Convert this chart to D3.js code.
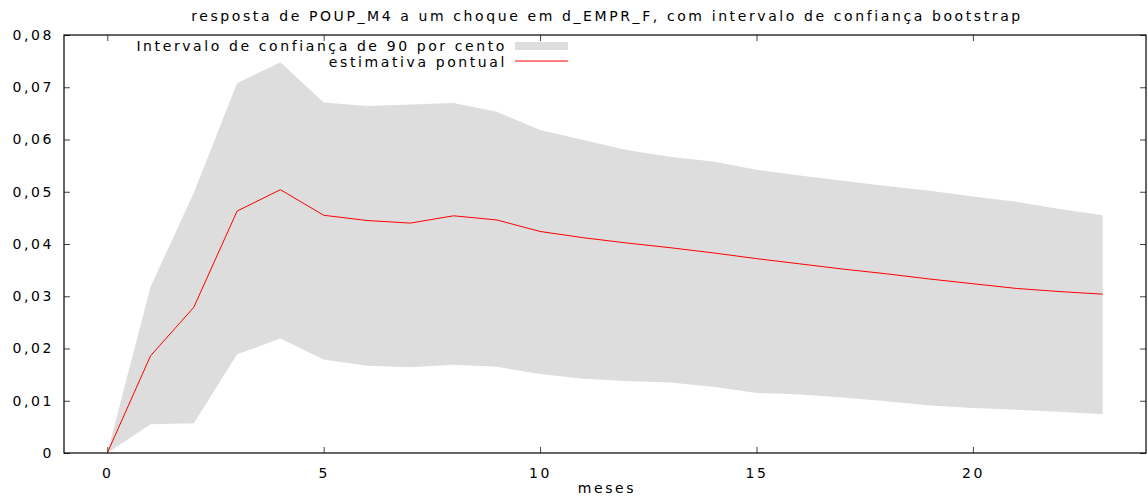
<!DOCTYPE html>
<html>
<head>
<meta charset="utf-8">
<script src="https://cdn.jsdelivr.net/npm/d3@7"></script>
<style>
  body { margin: 0; background: #fff; }
  text { font-family: "DejaVu Sans", sans-serif; fill: #000; }
</style>
</head>
<body>
<div id="graph"></div>
<script>

// meses 0..23
const months = d3.range(0, 24);

// estimativa pontual
const pointEst = [0, 0.0186, 0.0279, 0.0463, 0.0504, 0.0455, 0.0445, 0.0440, 0.0454, 0.0446,
  0.0424, 0.0412, 0.0402, 0.0393, 0.0383, 0.0372, 0.0362, 0.0352, 0.0343, 0.0333,
  0.0324, 0.0315, 0.0309, 0.0304];

// limites do intervalo de confianca
const upper = [0, 0.0318, 0.0498, 0.0708, 0.0748, 0.0671, 0.0664, 0.0667, 0.0670, 0.0653,
  0.0618, 0.0599, 0.0580, 0.0567, 0.0558, 0.0542, 0.0531, 0.0521, 0.0511, 0.0502,
  0.0491, 0.0481, 0.0467, 0.0455];
const lower = [0, 0.0055, 0.0057, 0.0189, 0.0219, 0.0179, 0.0167, 0.0164, 0.0169, 0.0165,
  0.0151, 0.0142, 0.0138, 0.0135, 0.0127, 0.0115, 0.0112, 0.0106, 0.0099, 0.0091,
  0.0086, 0.0083, 0.0079, 0.0074];

const xTicks = [0, 5, 10, 15, 20];
const yTicks = [0, 0.01, 0.02, 0.03, 0.04, 0.05, 0.06, 0.07, 0.08];

const title = "resposta de POUP_M4 a um choque em d_EMPR_F, com intervalo de confiança bootstrap";
const legendBand = "Intervalo de confiança de 90 por cento";
const legendLine = "estimativa pontual";

var margin = {top: 35, right: 2, bottom: 45, left: 64},
    width = 1148 - margin.left - margin.right,
    height = 498 - margin.top - margin.bottom;

var fontSize = "14px", spacing = "2.6px";

var root = d3.select("#graph").append("svg")
    .attr("width", 1148)
    .attr("height", 498);

var svg = root.append("g")
    .attr("transform", "translate(" + margin.left + "," + margin.top + ")");

var x = d3.scaleLinear().domain([-1, 24]).range([0, width]);
var y = d3.scaleLinear().domain([0, 0.08]).range([height, 0]);

var data = months.map(function(m, i) {
  return {m: m, est: pointEst[i], lo: lower[i], hi: upper[i]};
});

// faixa de confianca
svg.append("path")
  .datum(data)
  .attr("fill", "#dddddd")
  .attr("d", d3.area()
    .x(function(d) { return x(d.m); })
    .y0(function(d) { return y(d.lo); })
    .y1(function(d) { return y(d.hi); }));

// estimativa pontual
svg.append("path")
  .datum(data)
  .attr("fill", "none")
  .attr("stroke", "#ff0000")
  .attr("stroke-width", 1)
  .attr("d", d3.line()
    .x(function(d) { return x(d.m); })
    .y(function(d) { return y(d.est); }));

var fmt = function(v) { return v === 0 ? "0" : d3.format(".2f")(v).replace(".", ","); };

// eixos (ticks para dentro, espelhados)
var tickLen = 6;
var axL = svg.append("g").call(d3.axisLeft(y).tickValues(yTicks).tickSizeInner(-tickLen).tickSizeOuter(0).tickPadding(10).tickFormat(fmt));
var axR = svg.append("g").attr("transform", "translate(" + width + ",0)")
  .call(d3.axisRight(y).tickValues(yTicks).tickSizeInner(-tickLen).tickSizeOuter(0).tickFormat(""));
var axB = svg.append("g").attr("transform", "translate(0," + height + ")")
  .call(d3.axisBottom(x).tickValues(xTicks).tickSizeInner(-tickLen).tickSizeOuter(0).tickPadding(15).tickFormat(d3.format("d")));
var axT = svg.append("g")
  .call(d3.axisTop(x).tickValues(xTicks).tickSizeInner(-tickLen).tickSizeOuter(0).tickFormat(""));

[axL, axR, axB, axT].forEach(function(a) {
  a.select(".domain").remove();
  a.selectAll(".tick line").attr("stroke", "#444");
  a.selectAll("text")
    .style("font-family", "'DejaVu Sans', sans-serif")
    .style("font-size", fontSize)
    .style("letter-spacing", spacing)
    .attr("fill", "#000");
});

// borda
svg.append("rect")
  .attr("x", 0).attr("y", 0)
  .attr("width", width).attr("height", height)
  .attr("fill", "none")
  .attr("stroke", "#000")
  .attr("stroke-width", 1.2);

// titulo
root.append("text")
  .attr("x", margin.left + width / 2 + 2)
  .attr("y", 21)
  .attr("text-anchor", "middle")
  .style("font-size", fontSize)
  .style("letter-spacing", spacing)
  .text(title);

// rotulo eixo x
root.append("text")
  .attr("x", margin.left + width / 2 + 2)
  .attr("y", 493)
  .attr("text-anchor", "middle")
  .style("font-size", fontSize)
  .style("letter-spacing", spacing)
  .text("meses");

// legenda
var legX = 507, legY = 46;
var leg = root.append("g");
leg.append("text")
  .attr("x", legX).attr("y", legY + 5)
  .attr("text-anchor", "end")
  .style("font-size", fontSize)
  .style("letter-spacing", spacing)
  .text(legendBand);
leg.append("rect")
  .attr("x", legX + 8).attr("y", legY - 4)
  .attr("width", 53).attr("height", 8)
  .attr("fill", "#dddddd");
leg.append("text")
  .attr("x", legX).attr("y", legY + 21)
  .attr("text-anchor", "end")
  .style("font-size", fontSize)
  .style("letter-spacing", spacing)
  .text(legendLine);
leg.append("line")
  .attr("x1", legX + 8).attr("x2", legX + 61)
  .attr("y1", legY + 15).attr("y2", legY + 15)
  .attr("stroke", "#ff0000")
  .attr("stroke-width", 1);

</script>
</body>
</html>
